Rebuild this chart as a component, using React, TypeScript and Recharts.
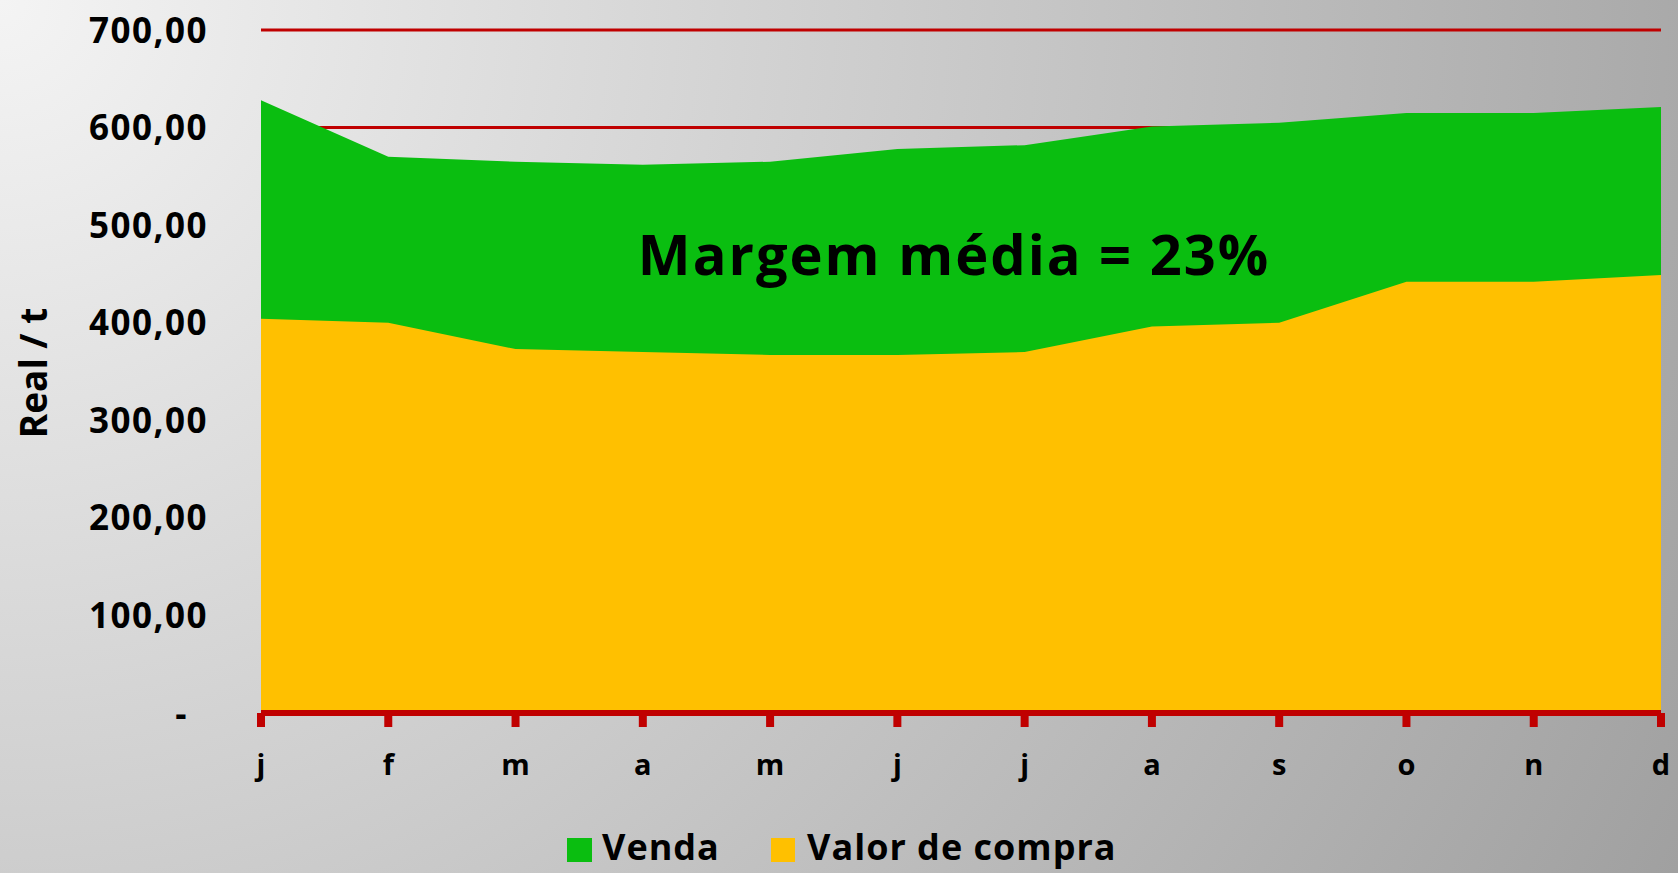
import React from "react";
import { AreaChart, Area, XAxis, YAxis, CartesianGrid } from "recharts";

const months = ["j", "f", "m", "a", "m", "j", "j", "a", "s", "o", "n", "d"];
const venda = [628, 570, 565, 562, 565, 578, 582, 601, 605, 615, 615, 621];
const compra = [404, 400, 373, 370, 367, 367, 370, 396, 400, 442, 442, 449];
const yTicks = [0, 100, 200, 300, 400, 500, 600, 700];

const data = months.map((m, i) => ({ m, venda: venda[i], compra: compra[i] }));

const FONT = "'Open Sans', sans-serif";
const RED = "#C00000";
const GREEN = "#0ABE10";
const YELLOW = "#FFC000";

const fmt = (v: number) => (v === 0 ? "-" : v.toFixed(2).replace(".", ","));

const YTick = ({ x, y, payload }: any) => (
  <text
    x={x + (payload.value === 0 ? -65 : -45)}
    y={y}
    dy="0.36em"
    textAnchor="end"
    fontFamily={FONT}
    fontWeight={700}
    fontSize={35}
    letterSpacing={1.5}
    fill="#000"
  >
    {fmt(payload.value)}
  </text>
);

const XTick = ({ x, y, payload }: any) => (
  <text x={x} y={y + 46} textAnchor="middle" fontFamily={FONT} fontWeight={700} fontSize={29} fill="#000">
    {payload.value}
  </text>
);

const YLabel = () => (
  <text
    transform="translate(32,373) rotate(-90)"
    textAnchor="middle"
    dominantBaseline="central"
    fontFamily={FONT}
    fontWeight={700}
    fontSize={37}
    fill="#000"
  >
    Real / t
  </text>
);

export default function App() {
  return (
    <div
      style={{
        position: "absolute",
        left: 0,
        top: 0,
        width: 1678,
        height: 873,
        overflow: "hidden",
        background: "radial-gradient(circle at 0 0, #f4f4f4 0px, #a0a0a0 1890px)",
        fontFamily: FONT,
      }}
    >
      <AreaChart width={1678} height={873} data={data} margin={{ top: 30, right: 17, bottom: 100, left: 0 }}>
        <CartesianGrid horizontal vertical={false} stroke={RED} strokeWidth={3} />
        <XAxis
          dataKey="m"
          interval={0}
          height={60}
          axisLine={{ stroke: RED, strokeWidth: 6 }}
          tickLine={{ stroke: RED, strokeWidth: 8 }}
          tickSize={14}
          tick={<XTick />}
        />
        <YAxis
          width={261}
          domain={[0, 700]}
          ticks={yTicks}
          axisLine={false}
          tickLine={false}
          tick={<YTick />}
          label={YLabel}
        />
        <Area
          type="linear"
          dataKey="venda"
          name="Venda"
          stroke="none"
          fill={GREEN}
          fillOpacity={1}
          isAnimationActive={false}
        />
        <Area
          type="linear"
          dataKey="compra"
          name="Valor de compra"
          stroke="none"
          fill={YELLOW}
          fillOpacity={1}
          isAnimationActive={false}
        />
      </AreaChart>

      <div
        style={{
          position: "absolute",
          left: 954,
          top: 225,
          transform: "translateX(-50%)",
          fontSize: 56,
          lineHeight: 1,
          fontWeight: 700,
          letterSpacing: 2,
          whiteSpace: "nowrap",
          color: "#000",
        }}
      >
        Margem média = 23%
      </div>

      <div style={{ position: "absolute", left: 567, top: 829, height: 36, display: "flex", fontSize: 36, lineHeight: 1, fontWeight: 700 }}>
        <span style={{ width: 25, height: 24, marginTop: 9, background: GREEN, marginRight: 10 }} />
        <span style={{ letterSpacing: 1 }}>Venda</span>
      </div>
      <div style={{ position: "absolute", left: 771, top: 829, height: 36, display: "flex", fontSize: 36, lineHeight: 1, fontWeight: 700 }}>
        <span style={{ width: 24, height: 24, marginTop: 9, background: YELLOW, marginRight: 12 }} />
        <span style={{ letterSpacing: 1 }}>Valor de compra</span>
      </div>
    </div>
  );
}
